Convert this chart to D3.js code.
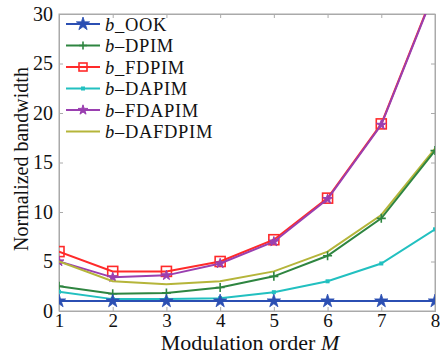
<!DOCTYPE html>
<html><head><meta charset="utf-8">
<script src="https://cdn.jsdelivr.net/npm/d3@7"></script>
<style>body{margin:0;background:#fff}svg{font-family:"Liberation Serif","DejaVu Serif",serif}</style>
</head><body><svg id="c" width="440" height="357"></svg>
<script>
const orders = [1,2,3,4,5,6,7,8];
const yTicks = [0,5,10,15,20,25,30];
const bOOK = [1,1,1,1,1,1,1,1];
const bDPIM = [2.5,1.75,1.83,2.38,3.5,5.58,9.36,16.2];
const bFDPIM = [6,4,4,5,7.2,11.4,18.9,32.5];
const bDAPIM = [1.95,1.2,1.2,1.3,1.9,3.0,4.8,8.25];
const bFDAPIM = [5,3.4,3.6,4.8,7.0,11.3,18.8,32.4];
const bDAFDPIM = [5,3.0,2.7,3.0,4.0,6.0,9.7,16.4];

const seriesNames = ["_OOK","\u2013DPIM","_FDPIM","\u2013DAPIM","\u2013FDAPIM","\u2013DAFDPIM"];
const seriesData = [bOOK,bDPIM,bFDPIM,bDAPIM,bFDAPIM,bDAFDPIM];
const seriesColors = ["#2b4fb3","#2e8540","#ff2a2a","#22c0c0","#9a3fb0","#b5b53a"];
const seriesMarkers = ["star","plus","square","dot","diamond","none"];

const svg = d3.select("#c");
const m = {l:59,t:14,r:435,b:311};
const x = d3.scaleLinear().domain([1,8]).range([m.l,m.r]);
const y = d3.scaleLinear().domain([0,30]).range([m.b,m.t]);

svg.append("defs").append("clipPath").attr("id","clip").append("rect")
  .attr("x",m.l).attr("y",m.t).attr("width",m.r-m.l).attr("height",m.b-m.t);

svg.append("rect").attr("x",m.l).attr("y",m.t).attr("width",m.r-m.l).attr("height",m.b-m.t)
  .attr("fill","none").attr("stroke","#aaa").attr("stroke-width",1);

const xAxis = svg.append("g").attr("transform",`translate(0,${m.b})`)
  .call(d3.axisBottom(x).tickValues(orders).tickSize(-4).tickPadding(2).tickFormat(d3.format("d")));
const yAxis = svg.append("g").attr("transform",`translate(${m.l},0)`)
  .call(d3.axisLeft(y).tickValues(yTicks).tickSize(-4).tickPadding(6));
const xTop = svg.append("g").attr("transform",`translate(0,${m.t})`)
  .call(d3.axisTop(x).tickValues(orders).tickSize(-4));
const yRight = svg.append("g").attr("transform",`translate(${m.r},0)`)
  .call(d3.axisRight(y).tickValues(yTicks).tickSize(-4));
xTop.selectAll("text").remove();
yRight.selectAll("text").remove();
[xAxis,yAxis,xTop,yRight].forEach(a=>{
  a.select(".domain").attr("stroke","#aaa");
  a.selectAll(".tick line").attr("stroke","#aaa");
  a.selectAll("text").attr("font-family","Liberation Serif, DejaVu Serif, serif").attr("font-size",20).attr("fill","#111");
});
xAxis.selectAll("text").attr("font-size",19);

const line = d3.line().x((d,i)=>x(orders[i])).y(d=>y(d));
const g = svg.append("g").attr("clip-path","url(#clip)");

function marker(sel, type, color, size){
  if(type==="star"){
    sel.append("path").attr("d",d3.symbol(d3.symbolStar, 55)()).attr("fill",color).attr("stroke",color).attr("stroke-width",0.8);
  } else if(type==="plus"){
    sel.append("path").attr("d",`M${-size/2},0H${size/2}M0,${-size/2}V${size/2}`).attr("stroke",color).attr("stroke-width",1.6).attr("fill","none");
  } else if(type==="square"){
    sel.append("rect").attr("x",-size/2).attr("y",-size/2).attr("width",size).attr("height",size).attr("fill","none").attr("stroke",color).attr("stroke-width",1.6);
  } else if(type==="dot"){
    sel.append("rect").attr("x",-2).attr("y",-2).attr("width",4).attr("height",4).attr("fill",color);
  } else if(type==="diamond"){
    sel.append("path").attr("d",d3.symbol(d3.symbolStar, 30)()).attr("fill",color).attr("stroke",color).attr("stroke-width",1);
  }
}

const drawOrder = [2,4,5,1,3,0];
drawOrder.forEach(k=>{
  const data = seriesData[k];
  g.append("path").datum(data).attr("d",line).attr("fill","none")
    .attr("stroke",seriesColors[k]).attr("stroke-width",2);
  data.forEach((v,i)=>{
    const mg = g.append("g").attr("transform",`translate(${x(orders[i])},${y(v)})`);
    marker(mg, seriesMarkers[k], seriesColors[k], seriesMarkers[k]==="square"?10:9);
  });
});

const lg = svg.append("g");
seriesNames.forEach((n,k)=>{
  const yy = 24 + k*21.5;
  lg.append("line").attr("x1",66).attr("x2",100).attr("y1",yy).attr("y2",yy)
    .attr("stroke",seriesColors[k]).attr("stroke-width",2);
  const mg = lg.append("g").attr("transform",`translate(83,${yy})`);
  marker(mg, seriesMarkers[k], seriesColors[k], 8);
  const t = lg.append("text").attr("x",105).attr("y",yy+6.5).attr("font-size",18.5)
    .attr("letter-spacing",0.7).attr("fill","#111");
  t.append("tspan").attr("font-style","italic").text("b");
  t.append("tspan").text(n);
});

svg.append("text").attr("transform","translate(28,159) rotate(-90)").attr("text-anchor","middle")
  .attr("font-size",20).attr("fill","#111").text("Normalized bandwidth");
const xt = svg.append("text").attr("x",250).attr("y",350).attr("text-anchor","middle").attr("font-size",22).attr("fill","#111");
xt.append("tspan").text("Modulation order ");
xt.append("tspan").attr("font-style","italic").text("M");
</script></body></html>
